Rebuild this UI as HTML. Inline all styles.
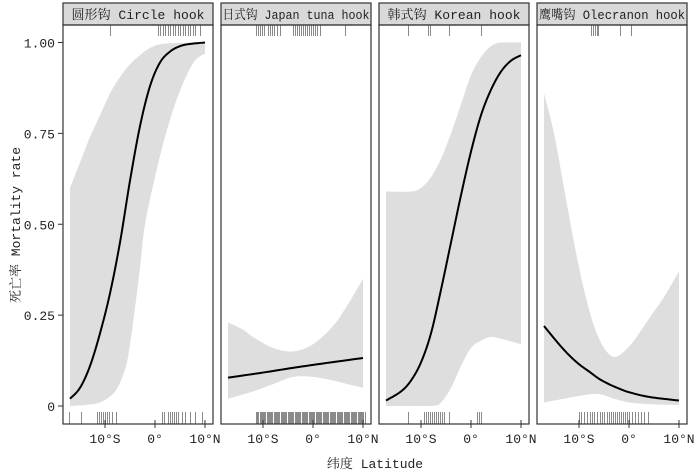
<!DOCTYPE html>
<html><head><meta charset="utf-8"><style>
html,body{margin:0;padding:0;background:#fff;}
svg{display:block;}
text{font-family:"Liberation Mono","Noto Serif CJK SC",monospace;}
</style></head><body>
<svg id="chart" width="700" height="472" xmlns="http://www.w3.org/2000/svg"></svg>
<script>
const panelTitles = ["圆形钩 Circle hook","日式钩 Japan tuna hook","韩式钩 Korean hook","鹰嘴钩 Olecranon hook"];
const yTickValues = [0,0.25,0.5,0.75,1];
const yTickLabels = ["0","0.25","0.50","0.75","1.00"];
const xTickValues = [-10,0,10];
const xTickLabels = ["10°S","0°","10°N"];
const fit1 = [[-17,0.02],[-15,0.05],[-13,0.11],[-11,0.2],[-9,0.31],[-7,0.45],[-5,0.62],[-3,0.77],[-1,0.88],[1,0.945],[3,0.975],[5,0.99],[7,0.996],[10,1]];
const up1 = [[-17,0.6],[-15,0.67],[-13,0.74],[-11,0.8],[-9,0.86],[-7,0.905],[-5,0.94],[-3,0.965],[-1,0.985],[2,0.997],[10,1]];
const lo1 = [[-17,0],[-14,0.003],[-11,0.01],[-8,0.04],[-6,0.1],[-5,0.17],[-4,0.27],[-3,0.38],[-2,0.5],[0,0.63],[2,0.74],[4,0.83],[6,0.9],[8,0.95],[10,0.97]];
const fit2 = [[-17,0.078],[-10,0.092],[-4,0.105],[2,0.117],[10,0.132]];
const up2 = [[-17,0.23],[-14,0.21],[-12,0.19],[-8,0.16],[-4,0.15],[0,0.17],[4,0.22],[7,0.28],[10,0.35]];
const lo2 = [[-17,0.02],[-12,0.04],[-8,0.06],[-4,0.08],[0,0.08],[4,0.07],[7,0.06],[10,0.05]];
const fit3 = [[-17,0.015],[-14,0.04],[-12,0.07],[-10,0.12],[-8,0.2],[-6,0.32],[-4,0.45],[-2,0.58],[0,0.7],[2,0.8],[4,0.87],[6,0.92],[8,0.95],[10,0.965]];
const up3 = [[-17,0.59],[-12,0.59],[-10,0.6],[-8,0.63],[-6,0.68],[-4,0.75],[-2,0.83],[0,0.91],[2,0.96],[4,0.99],[6,1],[10,1]];
const lo3 = [[-17,0],[-8,0],[-6,0.01],[-4,0.05],[-2,0.11],[0,0.16],[2,0.18],[4,0.19],[6,0.185],[10,0.17]];
const fit4 = [[-17,0.22],[-14,0.17],[-12,0.14],[-10,0.115],[-8,0.095],[-6,0.075],[-4,0.06],[-2,0.048],[0,0.038],[4,0.025],[10,0.015]];
const up4 = [[-17,0.86],[-15,0.75],[-13,0.6],[-11,0.45],[-9,0.32],[-7,0.22],[-5,0.16],[-3,0.135],[-1,0.15],[1,0.18],[3,0.22],[5,0.26],[7,0.3],[10,0.37]];
const lo4 = [[-17,0.01],[-13,0.02],[-9,0.03],[-6,0.033],[-3,0.02],[0,0.01],[4,0.005],[10,0.003]];
const rugTop1 = [-9,0.5,1,1.5,2,2.5,3,3.5,4,4.5,5,5.5,6,6.5,7,7.5,8,9];
const rugBot1 = [-17.2,-14.8,-11.6,-11.2,-10.8,-10.4,-10,-9.6,-9.2,-8.6,-7.8,1.4,1.8,2.6,3,3.4,3.8,4.2,4.6,5.4,6,7,8,9.4];
const rugTop2 = [-11.4,-11,-10.6,-10.2,-9.8,-9,-8.6,-8.2,-7.8,-7.2,-6.6,-4,-3.6,-3.2,-2.8,-2.4,-2,-1.6,-1.2,-0.8,-0.4,0,0.4,0.8,1.4,6.4];
const rugBot2 = [];
for (let i=0;i<=109;i++){ if(i%7!==3) rugBot2.push(-11.4+i*0.2); }
const rugTop3 = [-12.6,-8.6,-8.2,-4.4,2.0];
const rugBot3 = [-12.6,-9.4,-9,-8.6,-8.2,-7.8,-7.4,-7,-6.6,-6.2,-5.8,-5.4,-4.4,1.2,1.6,1.9];
const rugTop4 = [-7.6,-7.2,-6.8,-6.4,-6.2,-1.8,0.4];
const rugBot4 = [-10,-9.6,-9,-8.4,-7.8,-7.4,-7,-6.4,-5.8,-5.4,-5,-4.4,-4,-3.6,-3.2,-2.8,-2.4,-2,-1.6,-1.2,-0.8,-0.4,0,0.6,1.2,1.8,2.4,3,3.8];
const fits=[fit1,fit2,fit3,fit4], ups=[up1,up2,up3,up4], los=[lo1,lo2,lo3,lo4];
const rugTops=[rugTop1,rugTop2,rugTop3,rugTop4], rugBots=[rugBot1,rugBot2,rugBot3,rugBot4];

const svg=document.getElementById('chart');
const NS='http://www.w3.org/2000/svg';
function mk(tag,attrs,parent){const e=document.createElementNS(NS,tag);for(const k in attrs)e.setAttribute(k,attrs[k]);(parent||svg).appendChild(e);return e;}
const panelLefts=[63,221,379,537], PW=150, TOP=3, STRIPB=25, BOT=424;
const titleLens=[133,147,133,146];
function yS(v){return 406-v*363.5;}
function xS(p,lat){return panelLefts[p]+(lat+18.4)*5;}
function pathOf(p,arr){return arr.map((d,i)=>(i?'L':'M')+xS(p,d[0]).toFixed(2)+','+yS(d[1]).toFixed(2)).join(' ');}
function smooth(arr){
  const out=[];
  for(let i=0;i<arr.length-1;i++){
    const p0=arr[Math.max(0,i-1)],p1=arr[i],p2=arr[i+1],p3=arr[Math.min(arr.length-1,i+2)];
    for(let t=0;t<1;t+=0.1){
      const t2=t*t,t3=t2*t;
      const f=(a,b,c,d)=>0.5*((2*b)+(-a+c)*t+(2*a-5*b+4*c-d)*t2+(-a+3*b-3*c+d)*t3);
      out.push([f(p0[0],p1[0],p2[0],p3[0]),Math.max(0,Math.min(1,f(p0[1],p1[1],p2[1],p3[1])))]);
    }
  }
  out.push(arr[arr.length-1]);return out;
}
const yax=mk('g',{});


yTickValues.forEach((v,i)=>{
  const l=mk('line',{x1:58,x2:63,y1:yS(v),y2:yS(v),stroke:'#333','stroke-width':1},yax);
  
  
  const t=mk('text',{x:55,y:yS(v)+5,'text-anchor':'end','font-size':13,fill:'#222'},yax);
  
  
  t.textContent=yTickLabels[i];
});
const yt=mk('text',{x:0,y:0,transform:'translate(20,225) rotate(-90)','text-anchor':'middle','font-size':13,fill:'#222'});


yt.textContent='死亡率 Mortality rate';
const xt=mk('text',{x:375,y:468,'text-anchor':'middle','font-size':13,fill:'#222'});


xt.textContent='纬度 Latitude';

for(let p=0;p<4;p++){
  const g=mk('g',{});
  
  
  const L=panelLefts[p];
  const strip=mk('rect',{x:L,y:TOP,width:PW,height:STRIPB-TOP,fill:'#d9d9d9',stroke:'#333','stroke-width':1.2},g);
  
  
  const st=mk('text',{x:L+PW/2,y:19,'text-anchor':'middle','font-size':13,fill:'#222',textLength:titleLens[p],lengthAdjust:'spacingAndGlyphs'},g);
  
  
  st.textContent=panelTitles[p];
  const up=smooth(ups[p]), lo=smooth(los[p]);
  const band=mk('path',{d:pathOf(p,up)+' '+pathOf(p,lo.slice().reverse()).replace('M','L')+' Z',fill:'#dedede',stroke:'none'},g);
  
  
  const ln=mk('path',{d:pathOf(p,smooth(fits[p])),fill:'none',stroke:'#000','stroke-width':2},g);
  
  
  rugTops[p].forEach(v=>{
    const r=mk('rect',{x:Math.round(xS(p,v)),y:STRIPB,width:1,height:11,fill:'#8a8a8a'},g);
    
    
  });
  rugBots[p].forEach(v=>{
    const r=mk('rect',{x:Math.round(xS(p,v)),y:412,width:1,height:BOT-412,fill:'#8a8a8a'},g);
    
    
  });
  const box=mk('rect',{x:L,y:STRIPB,width:PW,height:BOT-STRIPB,fill:'none',stroke:'#333','stroke-width':1.2},g);
  
  
  xTickValues.forEach((v,i)=>{
    const tk=mk('line',{x1:xS(p,v),x2:xS(p,v),y1:BOT-4,y2:BOT+4,stroke:'#333','stroke-width':1},g);
    
    
    const tl=mk('text',{x:xS(p,v),y:443,'text-anchor':'middle','font-size':13,fill:'#222'},g);
    
    
    tl.textContent=xTickLabels[i];
  });
}
</script>
</body></html>
